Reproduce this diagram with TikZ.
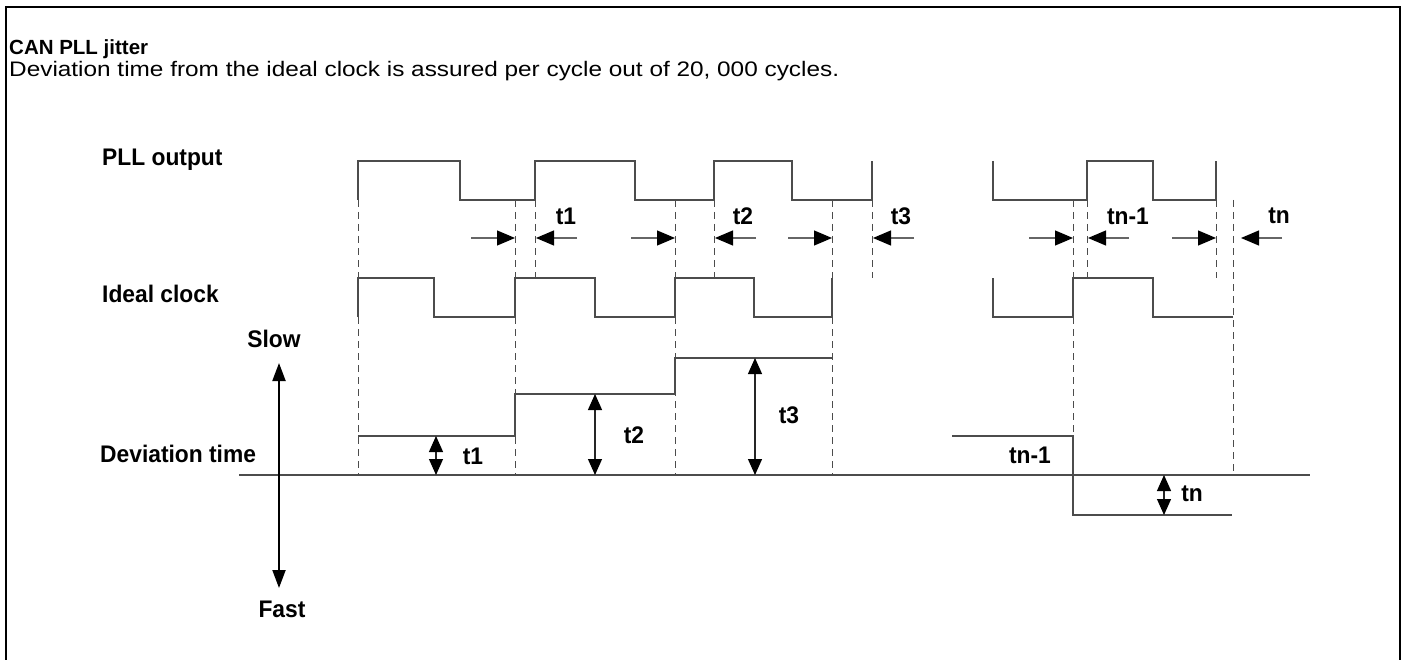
\documentclass[tikz,border=0pt]{standalone}
\usepackage{fontspec}
\setmainfont{Liberation Sans}
\newfontfamily\notefont[FakeStretch=1.16]{Liberation Sans}
\newfontfamily\lblfont[FakeStretch=0.95]{Liberation Sans}
\usetikzlibrary{arrows.meta}
\tikzset{
  wave/.style={black!70, line width=1.3pt},
  guide/.style={black!70, line width=1pt, dash pattern=on 7pt off 5pt},
  gaparrow/.style={black!60, line width=1.2pt, -{Triangle[length=18pt,width=15pt,color=black]}},
  levelarrow/.style={black!85, line width=1.2pt, {Triangle[length=16pt,width=14pt,color=black]}-{Triangle[length=16pt,width=14pt,color=black]}},
  lbl/.style={font=\fontsize{24}{27}\lblfont\bfseries, inner sep=0pt}
}
\begin{document}
\begin{tikzpicture}[x=1pt,y=-1pt]
        % levels: PLL high/low, ideal high/low, zero line, gap arrows
        \def\ph{161} \def\pl{200}
        \def\ih{278} \def\il{317}
        \def\base{475} \def\ay{238}
        \useasboundingbox (0,0) rectangle (1404,660);

        % Frame
        \draw[line width=2.5pt] (6,660) -- (6,7) -- (1400,7) -- (1400,660);

        % Heading
        \node[font=\fontsize{20.5}{24}\selectfont\bfseries, anchor=base west, inner sep=0pt] (title) at (9,55) {CAN PLL jitter};
        \node[font=\fontsize{21}{24}\notefont, anchor=base west, inner sep=0pt] (note) at (9,77) {Deviation time from the ideal clock is assured per cycle out of 20, 000 cycles.};

        % Row labels
        \node[lbl, anchor=west] (pll) at (102,160) {PLL output};
        \node[lbl, anchor=west] (ideal) at (102,294) {Ideal clock};
        \node[lbl, anchor=west] (dev) at (100,454) {Deviation time};

        % PLL output
        \draw[wave] (358,\pl) -- (358,\ph) -- (460,\ph) -- (460,\pl) -- (535,\pl) -- (535,\ph) -- (635,\ph) -- (635,\pl)
              -- (714,\pl) -- (714,\ph) -- (792,\ph) -- (792,\pl) -- (872,\pl) -- (872,\ph);
        \draw[wave] (993,\ph) -- (993,\pl) -- (1087,\pl) -- (1087,\ph) -- (1153,\ph) -- (1153,\pl) -- (1216,\pl) -- (1216,\ph);

        % Ideal clock
        \draw[wave] (358,\il) -- (358,\ih) -- (434,\ih) -- (434,\il) -- (515,\il) -- (515,\ih) -- (595,\ih) -- (595,\il)
              -- (675,\il) -- (675,\ih) -- (754,\ih) -- (754,\il) -- (832,\il) -- (832,\ih);
        \draw[wave] (993,\ih) -- (993,\il) -- (1073,\il) -- (1073,\ih) -- (1153,\ih) -- (1153,\il) -- (1233,\il);

        % Dashed edge lines
        \foreach \x in {358,515,535,675,714,832,872,1073,1087,1216}
          \draw[guide] (\x,\pl) -- (\x,\ih);
        \foreach \x in {358,515,675,832}
          \draw[guide] (\x,\il) -- (\x,\base);
        \draw[guide] (1073,\il) -- (1073,436);
        \draw[guide] (1233,\pl) -- (1233,\base);

        % Edge gaps
        \foreach \a/\b in {515/535,675/714,832/872,1073/1087,1216/1240}{
          \draw[gaparrow] (\a-44,\ay) -- (\a,\ay);
          \draw[gaparrow] (\b+42,\ay) -- (\b+1,\ay);
        }
        \node[lbl] (g1) at (566,216) {t1};
        \node[lbl] (g2) at (743,216) {t2};
        \node[lbl] (g3) at (901,216) {t3};
        \node[lbl] (g4) at (1128,216) {tn-1};
        \node[lbl] (g5) at (1279,216) {tn};

        % Deviation time
        \draw[wave] (239,\base) -- (1310,\base);
        \draw[wave] (358,436) -- (515,436) -- (515,394) -- (675,394) -- (675,358) -- (832,358);
        \draw[wave] (952,436) -- (1073,436) -- (1073,515) -- (1232,515);
        \draw[levelarrow] (436,436) -- (436,\base);
        \draw[levelarrow] (595,394) -- (595,\base);
        \draw[levelarrow] (755,358) -- (755,\base);
        \draw[levelarrow] (1164,\base) -- (1164,515);
        \node[lbl] (d1) at (473,456) {t1};
        \node[lbl] (d2) at (634,435) {t2};
        \node[lbl] (d3) at (789,415) {t3};
        \node[lbl] (d4) at (1030,455) {tn-1};
        \node[lbl] (d5) at (1192,494) {tn};

        % Slow / Fast axis
        \node[lbl] (slow) at (274,339) {Slow};
        \node[lbl] (fast) at (282,609) {Fast};
        \draw[line width=2pt, {Triangle[length=18pt,width=13pt]}-{Triangle[length=18pt,width=13pt]}] (279,363) -- (279,588);
    \end{tikzpicture}
\end{document}
